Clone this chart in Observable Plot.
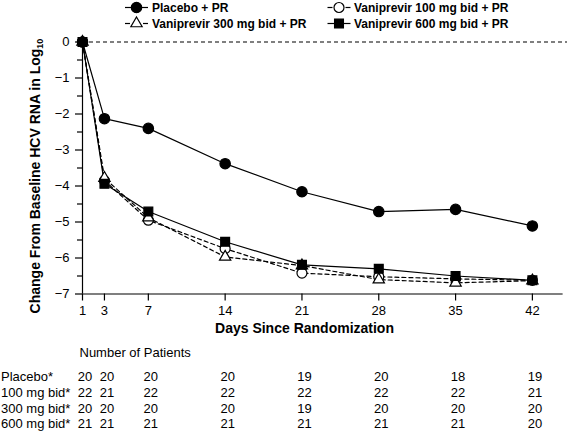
<!DOCTYPE html>
<html>
<head>
<meta charset="utf-8">
<script src="https://cdn.jsdelivr.net/npm/d3@7"></script>
<script src="https://cdn.jsdelivr.net/npm/@observablehq/plot@0.6"></script>
<style>
  html, body { margin: 0; padding: 0; background: #fff; }
  #wrap { position: relative; width: 567px; height: 437px; overflow: hidden; font-family: "Liberation Sans", Arial, sans-serif; color: #000; }
  #wrap > svg { position: absolute; left: 0; top: 0; }
  #legend { position: absolute; left: 0; top: 0; }
</style>
</head>
<body>
<div id="wrap"></div>
<script>
// ---- data ----
const days = [1, 3, 7, 14, 21, 28, 35, 42];
const seriesNames = ["Placebo + PR", "Vaniprevir 100 mg bid + PR", "Vaniprevir 300 mg bid + PR", "Vaniprevir 600 mg bid + PR"];
const placeboChange = [0, -2.13, -2.40, -3.38, -4.16, -4.71, -4.65, -5.11];
const v100Change    = [0, -3.85, -4.95, -5.74, -6.42, -6.52, -6.58, -6.62];
const v300Change    = [0, -3.78, -4.88, -5.97, -6.21, -6.60, -6.69, -6.63];
const v600Change    = [0, -3.94, -4.71, -5.55, -6.19, -6.30, -6.50, -6.62];
const yTicks = [0, -1, -2, -3, -4, -5, -6, -7];
const yMinorTicks = [-0.5, -1.5, -2.5, -3.5, -4.5, -5.5, -6.5];
const tableTitle = "Number of Patients";
const tableLabels = ["Placebo*", "100 mg bid*", "300 mg bid*", "600 mg bid*"];
const nPlacebo = [20, 20, 20, 20, 19, 20, 18, 19];
const n100     = [22, 21, 22, 22, 22, 22, 22, 21];
const n300     = [20, 20, 20, 20, 19, 20, 20, 20];
const n600     = [21, 21, 21, 21, 21, 21, 21, 20];
const xLabel = "Days Since Randomization";
const yLabel = "Change From Baseline HCV RNA in Log";
const yLabelSub = "10";

// ---- build ----
const changes = [placeboChange, v100Change, v300Change, v600Change];
const counts = [nPlacebo, n100, n300, n600];
const rows = seriesNames.flatMap((s, k) => days.map((d, i) => ({series: s, day: d, change: changes[k][i]})));
const bySeries = s => rows.filter(r => r.series === s);

const styles = {
  [seriesNames[0]]: {symbol: "circle", fill: "#000", r: 5.2, dash: null},
  [seriesNames[1]]: {symbol: "circle", fill: "#fff", r: 5.0, dash: "4,3"},
  [seriesNames[2]]: {symbol: "triangle", fill: "#fff", r: 4.2, dash: "4,3"},
  [seriesNames[3]]: {symbol: "square", fill: "#000", r: 5.0, dash: null}
};

const W = 567, H = 437, mL = 82, mT = 41.5, frameBottom = 293.5;
const tableRowY = [380, 396, 412, 427.5];
const fmtY = d => d === 0 ? "0" : "\u2212" + Math.abs(d);

const lineMarks = seriesNames.map(s => Plot.line(bySeries(s), {
  x: "day", y: "change", stroke: "#000", strokeWidth: 1.2,
  strokeDasharray: styles[s].dash || undefined
}));
const dotOrder = [seriesNames[1], seriesNames[2], seriesNames[3], seriesNames[0]];
const dotMarks = dotOrder.map(s => Plot.dot(bySeries(s), {
  x: "day", y: "change", symbol: () => styles[s].symbol, r: styles[s].r,
  fill: styles[s].fill, stroke: "#000", strokeWidth: 1.2
}));

const tableMarks = [
  Plot.text([tableTitle], {frameAnchor: "bottom-left", textAnchor: "start", dx: -3, dy: 356 - frameBottom, fontSize: 13}),
  ...tableLabels.map((lab, r) => Plot.text([lab], {frameAnchor: "bottom-left", textAnchor: "start", dx: -mL + 0.5, dy: tableRowY[r] - frameBottom, fontSize: 13})),
  ...counts.map((cnt, r) => Plot.text(days, {x: d => d, text: (d, i) => String(cnt[i]), frameAnchor: "bottom", dx: 2.5, dy: tableRowY[r] - frameBottom, fontSize: 13}))
];

const chart = Plot.plot({
  width: W, height: H,
  marginLeft: mL, marginRight: 0, marginTop: mT, marginBottom: H - frameBottom,
  style: {fontFamily: "'Liberation Sans', Arial, sans-serif", fontSize: "13px", color: "#000", background: "transparent", overflow: "visible"},
  x: {domain: [1, 45.2]},
  y: {domain: [-7, 0]},
  marks: [
    Plot.axisY({ticks: yMinorTicks, tickSize: 5, tickFormat: () => "", strokeWidth: 1.2, label: null}),
    Plot.axisY({ticks: yTicks, tickSize: 7, tickPadding: 6, tickFormat: fmtY, fontSize: 13, strokeWidth: 1.2, label: null}),
    Plot.axisX({ticks: days, tickSize: 7, tickPadding: 5, tickFormat: d => String(d), fontSize: 13, strokeWidth: 1.2, label: null}),
    Plot.ruleX([1], {y1: -7, y2: 0, stroke: "#000", strokeWidth: 1.2}),
    Plot.ruleY([-7], {x1: 1, x2: 44.8, stroke: "#000", strokeWidth: 1.2}),
    Plot.ruleY([0], {x1: 1, x2: 45.2, stroke: "#000", strokeWidth: 1.2, strokeDasharray: "4,3"}),
    ...lineMarks,
    ...dotMarks,
    Plot.text([xLabel], {frameAnchor: "bottom", dx: 304 - (mL + W) / 2, dy: 38.5, fontWeight: "bold", fontSize: 14}),
    ...tableMarks
  ]
});

const wrap = document.getElementById("wrap");
wrap.appendChild(chart);

// rotated y-axis title with subscript
const yl = d3.select(chart).append("text")
  .attr("transform", "translate(35,176) rotate(-90)")
  .attr("text-anchor", "middle").attr("dy", "0.35em")
  .attr("font-family", "'Liberation Sans', Arial, sans-serif")
  .attr("font-size", 14).attr("font-weight", "bold").attr("fill", "#000");
yl.append("tspan").text(yLabel);
yl.append("tspan").attr("font-size", 9).attr("dy", "0.35em").text(yLabelSub);

// ---- legend ----
const legendItems = [
  {name: seriesNames[0], cx: 136.5, cy: 7.5, tx: 152},
  {name: seriesNames[1], cx: 339, cy: 7.5, tx: 354},
  {name: seriesNames[2], cx: 136.5, cy: 23.5, tx: 152},
  {name: seriesNames[3], cx: 339, cy: 23.5, tx: 354}
];
const symMap = {circle: d3.symbolCircle, triangle: d3.symbolTriangle, square: d3.symbolSquare};
const leg = d3.select(wrap).append("svg").attr("id", "legend").attr("width", W).attr("height", 34);
legendItems.forEach(it => {
  const st = styles[it.name];
  const g = leg.append("g").attr("transform", `translate(${it.cx},${it.cy})`);
  if (st.dash) {
    g.append("line").attr("x1", -11.5).attr("x2", -6.5).attr("stroke", "#000").attr("stroke-width", 1.2);
    g.append("line").attr("x1", 6.5).attr("x2", 11.5).attr("stroke", "#000").attr("stroke-width", 1.2);
  } else {
    g.append("line").attr("x1", -11.5).attr("x2", 11.5).attr("stroke", "#000").attr("stroke-width", 1.2);
  }
  g.append("path").attr("d", d3.symbol(symMap[st.symbol], Math.PI * st.r * st.r)())
    .attr("fill", st.fill).attr("stroke", "#000").attr("stroke-width", 1.2);
  leg.append("text").attr("x", it.tx).attr("y", it.cy).attr("dy", "0.35em")
    .attr("font-family", "'Liberation Sans', Arial, sans-serif").attr("font-size", 12).attr("font-weight", "bold")
    .text(it.name);
});
</script>
</body>
</html>
